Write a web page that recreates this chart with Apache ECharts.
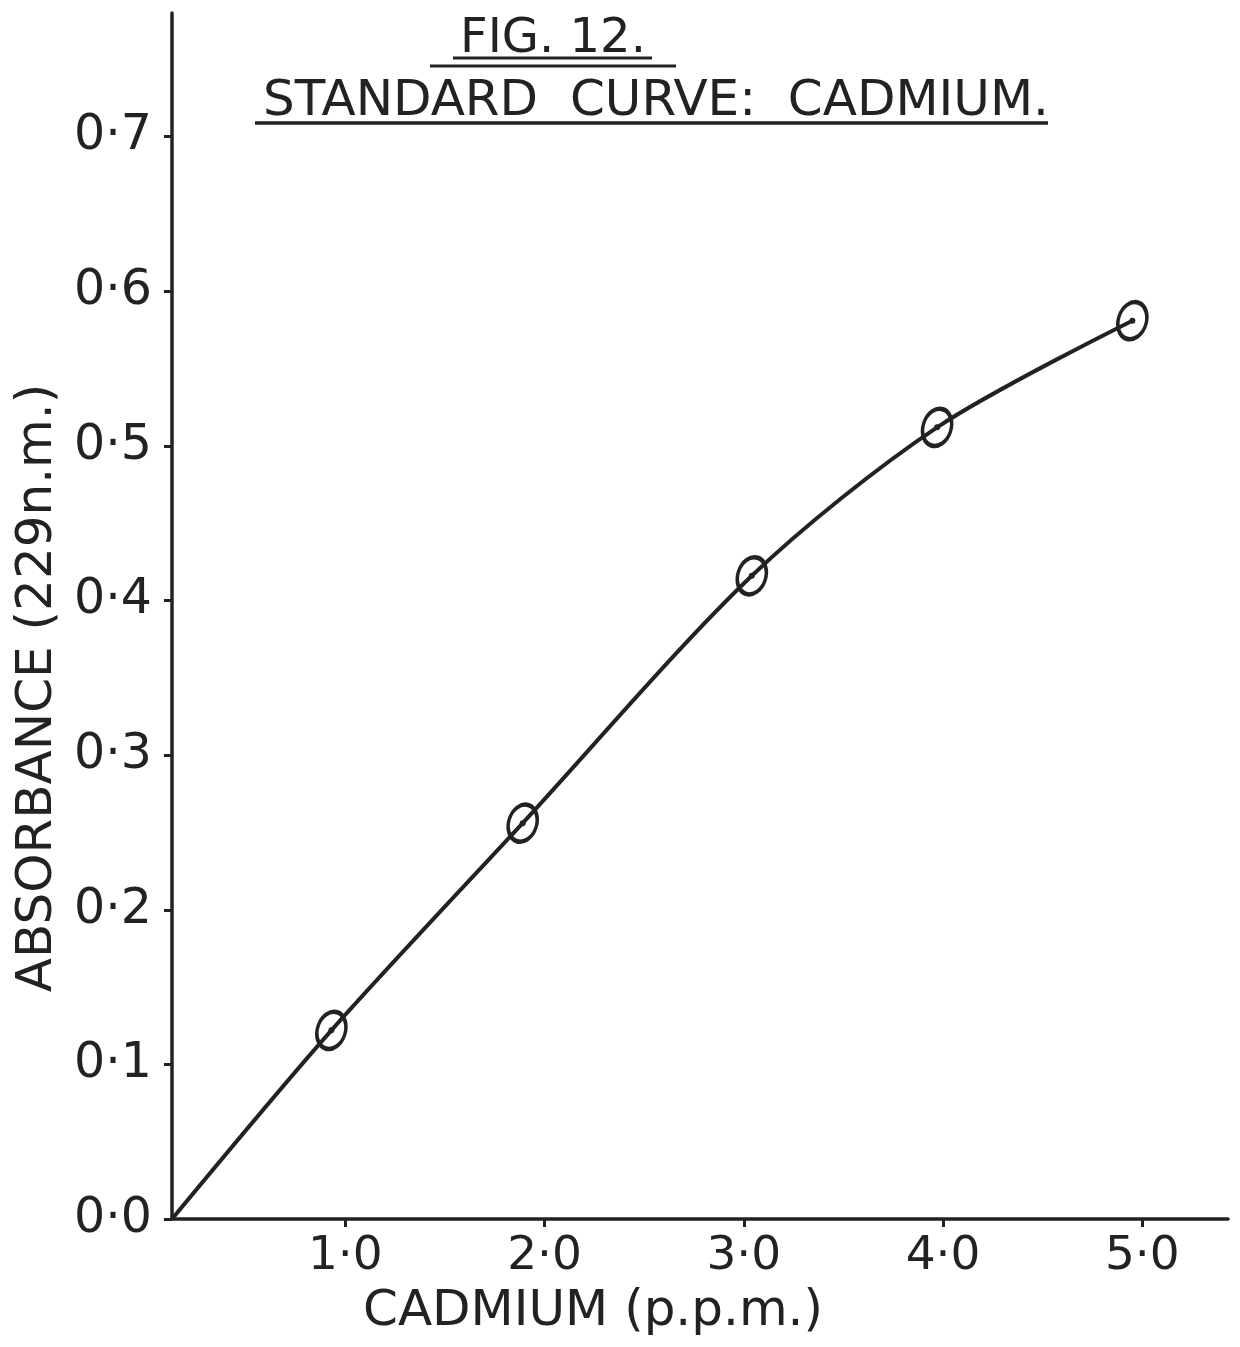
<!DOCTYPE html>
<html>
<head>
<meta charset="utf-8">
<script src="https://cdn.jsdelivr.net/npm/echarts@6/dist/echarts.min.js"></script>
<style>
  html, body { margin: 0; padding: 0; background: #ffffff; }
  #chart { width: 1240px; height: 1347px; }
</style>
</head>
<body>
<div id="chart"></div>
<script>
// Standard curve for cadmium: absorbance at 229 nm versus concentration.
const yTickValues = [0, 0.1, 0.2, 0.3, 0.4, 0.5, 0.6, 0.7];
const yTickLabels = ['0·0', '0·1', '0·2', '0·3', '0·4', '0·5', '0·6', '0·7'];
const xTickValues = [1, 2, 3, 4, 5];
const xTickLabels = ['1·0', '2·0', '3·0', '4·0', '5·0'];

// Measured standards (p.p.m., absorbance)
const concentration = [0.93, 1.89, 3.04, 3.97, 4.95];
const absorbance = [0.122, 0.256, 0.416, 0.512, 0.581];
// Where the drawn curve leaves the axis corner
const curveStart = [0.13, 0];

const INK = '#222222';
const FONT = 'DejaVu Sans';

function labelFor(values, labels) {
  return function (v) {
    const i = values.findIndex(function (t) { return Math.abs(t - v) < 1e-6; });
    return i >= 0 ? labels[i] : '';
  };
}

const points = concentration.map(function (c, i) { return [c, absorbance[i]]; });
const curve = [curveStart].concat(points);

const chart = echarts.init(document.getElementById('chart'), null, { renderer: 'canvas' });

chart.setOption({
  backgroundColor: '#ffffff',
  animation: false,
  title: [
    {
      text: 'FIG. 12.',
      left: 548, top: 11, textAlign: 'center',
      textStyle: { fontFamily: FONT, fontSize: 48, fontWeight: 'normal', color: INK }
    },
    {
      text: 'STANDARD  CURVE:  CADMIUM.',
      left: 651, top: 72, textAlign: 'center',
      textStyle: { fontFamily: FONT, fontSize: 50, fontWeight: 'normal', color: INK }
    }
  ],
  graphic: [
    { type: 'line', shape: { x1: 453, y1: 58, x2: 652, y2: 58 }, style: { stroke: INK, lineWidth: 3 } },
    { type: 'line', shape: { x1: 430, y1: 66, x2: 676, y2: 66 }, style: { stroke: INK, lineWidth: 3 } },
    { type: 'line', shape: { x1: 255, y1: 123, x2: 1048, y2: 123 }, style: { stroke: INK, lineWidth: 3.5 } }
  ],
  grid: { left: 172, right: 12, top: 13, bottom: 128, containLabel: false },
  xAxis: {
    type: 'value',
    min: 0.13, max: 5.43,
    name: 'CADMIUM (p.p.m.)',
    nameLocation: 'middle',
    nameGap: 68,
    nameTextStyle: { fontFamily: FONT, fontSize: 50, color: INK, padding: [0, 214, 0, 0] },
    axisLine: { show: true, lineStyle: { color: INK, width: 3.5 } },
    axisTick: { show: true, length: 8, customValues: xTickValues, lineStyle: { color: INK, width: 3 } },
    axisLabel: {
      customValues: xTickValues,
      formatter: labelFor(xTickValues, xTickLabels),
      margin: 14,
      fontFamily: FONT, fontSize: 47, color: INK
    },
    splitLine: { show: false }
  },
  yAxis: {
    type: 'value',
    min: 0, max: 0.78,
    name: 'ABSORBANCE (229n.m.)',
    nameLocation: 'middle',
    nameGap: 100,
    nameTextStyle: { fontFamily: FONT, fontSize: 50, color: INK, padding: [0, 144, 0, 0] },
    axisLine: { show: true, lineStyle: { color: INK, width: 3.5 } },
    axisTick: { show: true, length: 8, customValues: yTickValues, lineStyle: { color: INK, width: 3 } },
    axisLabel: {
      customValues: yTickValues,
      formatter: labelFor(yTickValues, yTickLabels),
      margin: 20,
      fontFamily: FONT, fontSize: 49, color: INK
    },
    splitLine: { show: false }
  },
  series: [
    {
      type: 'line',
      data: curve,
      smooth: 0.3,
      showSymbol: false,
      symbol: 'none',
      lineStyle: { color: INK, width: 4 },
      z: 2
    },
    {
      // hand-ringed standards
      type: 'scatter',
      data: points,
      symbol: 'circle',
      symbolSize: [28, 38],
      symbolRotate: -18,
      itemStyle: { color: 'rgba(0,0,0,0)', borderColor: INK, borderWidth: 4, opacity: 1 },
      z: 3
    },
    {
      // pencil dot at the centre of each ring
      type: 'scatter',
      data: points,
      symbol: 'circle',
      symbolSize: 6,
      itemStyle: { color: INK, opacity: 1 },
      z: 4
    }
  ]
});
</script>
</body>
</html>
